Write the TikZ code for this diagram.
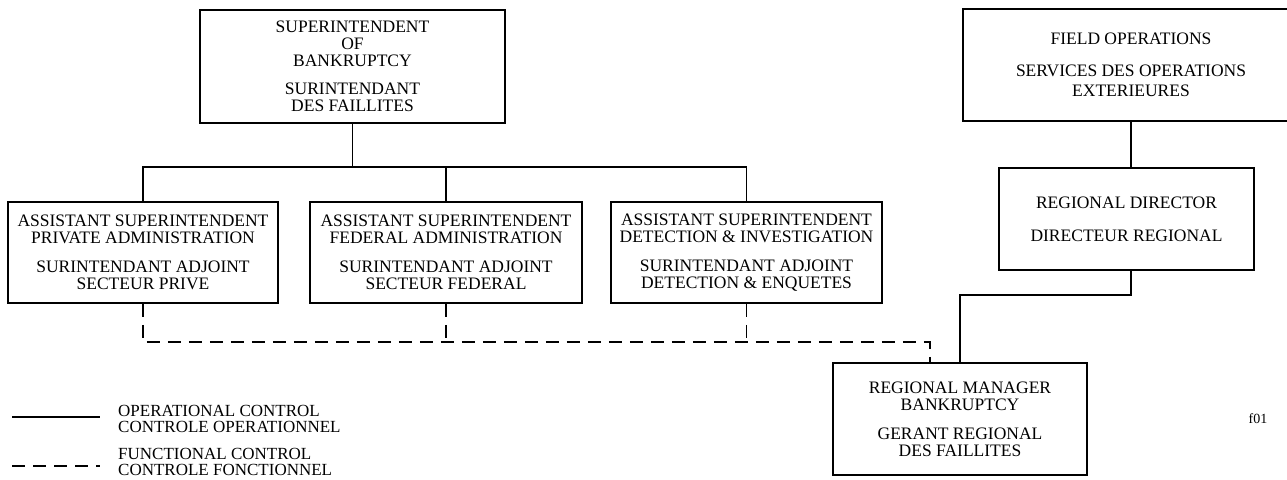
\documentclass[tikz,border=0pt]{standalone}
\usepackage{fontspec}
\setmainfont{Liberation Serif}
\begin{document}
\begin{tikzpicture}[x=1pt,y=-1pt,
  box/.style={draw, line width=1.5pt, inner sep=0pt, align=center, font=\fontsize{17.5}{17}\selectfont},
  op/.style={line width=1.5pt},
  fn/.style={line width=1.5pt, dash pattern=on 13pt off 8pt},
  lbl/.style={align=left, anchor=west, inner sep=0pt, font=\fontsize{17}{16.5}\selectfont}]
\useasboundingbox (0,0) rectangle (1287,479);
\node[box, minimum width=305pt, minimum height=113pt] (sup) at (352.5,66.5)
  {SUPERINTENDENT\\ OF\\ BANKRUPTCY\\[11pt] SURINTENDANT\\ DES FAILLITES};
\node[box, minimum width=336pt, minimum height=112pt] (fo) at (1131,65)
  {FIELD OPERATIONS\\[15pt] SERVICES DES OPERATIONS\\[3pt] EXTERIEURES};
\node[box, minimum width=270pt, minimum height=101pt] (pa) at (143,252.5)
  {ASSISTANT SUPERINTENDENT\\ PRIVATE ADMINISTRATION\\[12pt] SURINTENDANT ADJOINT\\ SECTEUR PRIVE};
\node[box, minimum width=272pt, minimum height=101pt] (fa) at (446,252.5)
  {ASSISTANT SUPERINTENDENT\\ FEDERAL ADMINISTRATION\\[12pt] SURINTENDANT ADJOINT\\ SECTEUR FEDERAL};
\node[box, minimum width=271pt, minimum height=101pt] (di) at (746.5,252.5)
  {ASSISTANT SUPERINTENDENT\\ DETECTION \& INVESTIGATION\\[12pt] SURINTENDANT ADJOINT\\ DETECTION \& ENQUETES};
\node[box, minimum width=255pt, minimum height=102pt] (rd) at (1126.5,219)
  {REGIONAL DIRECTOR\\[16pt] DIRECTEUR REGIONAL};
\node[box, minimum width=254pt, minimum height=112pt] (rm) at (960,419)
  {REGIONAL MANAGER\\ BANKRUPTCY\\[12pt] GERANT REGIONAL\\ DES FAILLITES};
\coordinate (bar) at (0,167);
\coordinate (db) at (0,342);
\coordinate (rdb) at (0,295);
\coordinate (rmd) at (930,363);
% operational control
\draw[op] (sup.south) -- (sup.south |- bar);
\draw[op] (pa.north) -- (pa.north |- bar) -- (di.north |- bar) -- (di.north);
\draw[op] (fa.north) -- (fa.north |- bar);
\draw[op] (fo.south) -- (fo.south |- rd.north);
\draw[op] (fo.south |- rd.south) -- (fo.south |- rdb) -| (rm.north);
% functional control
\draw[fn] (pa.south) -- (pa.south |- db) -- (rmd |- db) -- (rmd);
\draw[fn] (fa.south) -- (fa.south |- db);
\draw[fn] (di.south) -- (di.south |- db);
% legend
\coordinate (l1a) at (12,417);
\coordinate (l1b) at (100,417);
\coordinate (l2a) at (12,466);
\coordinate (l2b) at (100,466);
\draw[op] (l1a) -- (l1b);
\draw[fn] (l2a) -- (l2b);
\node[lbl] (l1) at (118,419) {OPERATIONAL CONTROL\\ CONTROLE OPERATIONNEL};
\node[lbl] (l2) at (118,462) {FUNCTIONAL CONTROL\\ CONTROLE FONCTIONNEL};
\node[font=\fontsize{14}{14}\selectfont, inner sep=0pt] (fig) at (1258,419) {f01};
\end{tikzpicture}
\end{document}
